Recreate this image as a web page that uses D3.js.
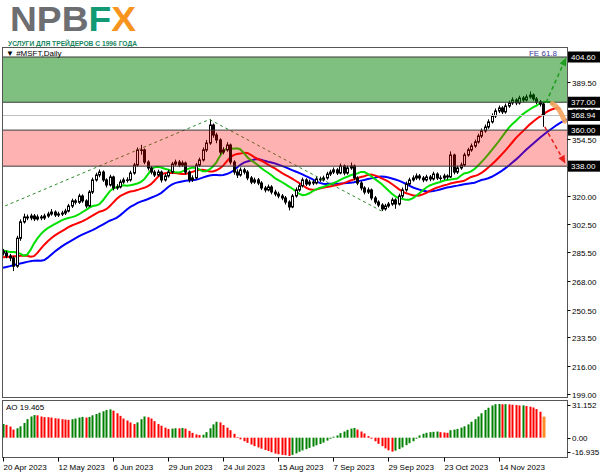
<!DOCTYPE html>
<html><head><meta charset="utf-8">
<script src="https://cdn.jsdelivr.net/npm/d3@7"></script>
<style>body{margin:0;background:#fff}svg{display:block}text{font-family:"Liberation Sans",Arial,sans-serif}</style>
</head><body><svg id="c" width="600" height="476"></svg>
<script>
const opens = [286.0,285.0,283.2,282.0,277.0,294.0,304.0,307.0,306.4,307.6,
305.8,307.0,306.4,307.6,308.8,310.0,308.2,308.8,309.4,310.6,
313.7,316.8,316.0,319.8,316.8,313.7,322.2,329.6,332.6,334.4,
329.6,326.5,331.4,324.7,325.3,328.3,329.6,329.6,333.8,338.7,
347.9,347.9,340.5,336.9,334.4,332.6,334.4,329.6,332.0,334.4,
339.3,340.5,338.7,339.9,334.4,329.6,330.8,338.7,341.8,347.9,
352.1,363.1,357.0,354.0,346.6,347.9,350.9,340.5,334.4,332.6,
335.7,334.4,330.8,328.3,329.6,327.7,324.7,323.5,325.3,322.2,
321.0,319.8,318.6,316.1,313.1,319.8,323.5,326.0,329.6,327.1,
328.3,327.7,330.2,329.6,330.8,333.2,334.4,335.7,333.8,338.1,
333.8,336.9,338.1,330.8,327.7,324.7,322.2,323.5,318.6,316.1,
314.3,311.9,313.7,314.9,317.4,314.9,319.8,323.5,327.1,329.6,
330.8,332.0,330.8,329.6,331.4,330.2,333.2,330.8,330.8,332.0,
331.4,344.8,334.4,336.9,338.7,344.8,347.9,350.3,352.8,356.4,
359.5,361.9,365.0,368.6,371.7,373.5,371.1,374.7,376.6,378.4,
376.6,379.6,378.4,380.2,381.4,379.0,377.2,375.9];
const highs = [287.5,286.5,284.5,283.0,295.5,305.5,309.0,308.5,309.0,308.8,
308.5,308.2,309.0,310.2,311.8,311.0,310.2,310.8,312.0,315.0,
318.2,318.0,321.2,320.8,317.8,323.4,331.0,334.0,336.0,335.4,
330.6,332.8,332.2,327.0,329.8,331.0,331.2,335.2,340.0,349.4,
351.0,348.8,341.6,338.0,335.6,335.8,335.4,333.4,335.8,340.6,
342.0,341.8,341.4,340.8,335.4,332.4,340.0,343.2,349.4,354.0,
366.5,364.0,358.4,355.0,349.6,352.6,351.8,341.6,336.0,337.2,
337.0,335.6,332.0,331.0,330.8,328.8,326.0,326.8,326.4,323.6,
322.4,321.0,319.8,317.2,321.0,325.0,327.4,331.0,330.6,329.8,
329.6,331.6,331.6,332.2,334.6,335.8,337.2,336.8,339.6,339.0,
338.4,340.2,339.0,331.8,328.8,325.8,325.0,324.4,319.8,317.2,
315.4,315.0,316.2,318.8,318.4,321.2,325.0,328.6,331.0,332.4,
333.6,333.2,332.0,332.8,332.6,334.6,334.2,332.4,333.4,333.0,
347.0,345.6,338.4,340.2,346.2,349.2,351.8,354.2,357.8,361.0,
363.4,366.6,370.2,373.2,375.0,374.6,376.2,378.0,380.0,379.4,
381.0,380.8,381.8,383.6,382.4,380.2,378.4,376.8];
const lows = [283.5,281.8,280.0,274.0,276.0,292.5,303.0,305.0,305.0,304.5,
304.8,305.0,305.2,306.5,307.8,307.0,307.0,307.6,308.2,309.8,
312.5,314.6,315.0,315.6,312.4,313.0,321.0,328.6,331.2,328.4,
325.0,325.6,323.2,323.6,324.4,327.2,328.0,328.6,332.8,337.8,
345.0,339.2,335.4,333.0,331.4,331.6,328.0,328.6,331.0,333.4,
338.2,337.4,337.6,333.0,328.0,328.4,330.0,337.6,340.8,346.6,
351.0,355.4,352.0,345.0,345.2,346.8,339.0,332.8,330.8,331.6,
333.0,329.4,327.0,327.2,326.4,323.4,322.0,322.6,320.8,319.6,
318.4,317.2,314.6,311.0,312.4,318.8,322.4,325.0,325.8,326.0,
326.4,326.8,328.4,328.6,329.8,332.0,333.2,332.6,333.0,332.4,
332.8,335.8,329.4,326.4,323.2,320.8,321.0,317.2,314.8,313.0,
310.6,310.8,312.6,313.8,312.0,314.0,318.6,322.4,326.0,328.6,
329.6,329.4,328.2,328.6,328.8,329.2,329.6,329.2,329.6,329.8,
330.8,333.0,333.2,335.8,337.8,343.8,346.8,349.2,351.8,355.2,
358.4,360.8,364.0,367.4,370.4,369.8,370.0,373.6,375.4,375.2,
375.6,377.0,377.4,379.2,377.8,375.8,374.4,362.0];
const closes = [285.0,283.2,282.0,277.0,294.0,304.0,307.0,306.4,307.6,305.8,
307.0,306.4,307.6,308.8,310.0,308.2,308.8,309.4,310.6,313.7,
316.8,316.0,319.8,316.8,313.7,322.2,329.6,332.6,334.4,329.6,
326.5,331.4,324.7,325.3,328.3,329.6,329.6,333.8,338.7,347.9,
347.9,340.5,336.9,334.4,332.6,334.4,329.6,332.0,334.4,339.3,
340.5,338.7,339.9,334.4,329.6,330.8,338.7,341.8,347.9,352.1,
363.1,357.0,354.0,346.6,347.9,350.9,340.5,334.4,332.6,335.7,
334.4,330.8,328.3,329.6,327.7,324.7,323.5,325.3,322.2,321.0,
319.8,318.6,316.1,313.1,319.8,323.5,326.0,329.6,327.1,328.3,
327.7,330.2,329.6,330.8,333.2,334.4,335.7,333.8,338.1,333.8,
336.9,338.1,330.8,327.7,324.7,322.2,323.5,318.6,316.1,314.3,
311.9,313.7,314.9,317.4,314.9,319.8,323.5,327.1,329.6,330.8,
332.0,330.8,329.6,331.4,330.2,333.2,330.8,330.8,332.0,331.4,
344.8,334.4,336.9,338.7,344.8,347.9,350.3,352.8,356.4,359.5,
361.9,365.0,368.6,371.7,373.5,371.1,374.7,376.6,378.4,376.6,
379.6,378.4,380.2,381.4,379.0,377.2,375.9,368.94];
const aoValues = [12.7,11.8,10.3,7.5,8.7,10.5,13.6,17.2,19.6,20.9,
20.7,19.6,19.0,18.9,18.6,18.0,17.7,17.1,16.8,16.5,
17.1,17.7,18.6,19.2,18.6,19.2,20.7,21.9,23.1,24.4,
25.6,26.2,25.0,22.6,20.2,17.7,15.9,14.1,12.6,14.1,
17.1,19.6,18.9,17.7,15.3,12.6,11.1,9.3,8.1,8.4,
8.7,8.6,9.0,8.4,6.3,4.5,3.0,2.4,2.7,5.1,
8.7,12.3,14.7,14.1,11.7,9.3,6.9,3.6,0.6,-1.5,
-3.3,-4.8,-6.3,-7.8,-9.0,-10.2,-11.4,-12.3,-13.5,-14.7,
-15.3,-15.9,-16.2,-16.9,-15.9,-14.5,-13.0,-11.8,-10.6,-9.4,
-8.2,-7.0,-5.8,-4.5,-2.7,-0.9,0.9,2.1,4.2,5.7,
7.2,8.4,9.0,7.5,5.7,3.9,1.5,-0.9,-3.3,-5.7,
-7.8,-9.9,-11.7,-12.9,-12.0,-10.5,-9.0,-6.9,-5.1,-3.3,
-0.9,2.1,3.6,4.5,5.1,5.4,5.7,5.1,4.8,4.5,
6.9,7.5,8.1,9.3,10.5,12.3,14.7,17.1,19.6,22.6,
25.6,27.7,29.8,31.0,31.15,30.9,31.0,30.8,30.5,30.2,
29.8,29.9,29.3,28.7,27.9,26.5,24.0,19.465];
const dateLabels = ["20 Apr 2023","12 May 2023","6 Jun 2023","29 Jun 2023","24 Jul 2023","15 Aug 2023","7 Sep 2023","29 Sep 2023","23 Oct 2023","14 Nov 2023"];
const dateLabelBars = [0,16,32,48,64,80,96,112,128,144];
const priceTicks = [199,216,233.5,250.5,268,285.5,302.5,320,337.5,354.5,372,389.5];
const levelLabels = [404.60,377.00,368.94,360.00,338.00];
const greenZone = [377,404.6];
const redZone = [338,360];
const currentPrice = 368.94;
const lipsHead = [286.6,286.1,285.6];
const teethHead = [282.4,282.6,282.8,283.0,283.1];
const jawHead = [276.0,276.5,277.0,277.6,278.1,278.6,279.1,279.6];
const feLine = [[-1,312.3],[60,366.5],[110,310.6]];
const upArrow = [[157.8,376.8],[163.6,404.2]];
const downArrow = [[157.4,361.9],[163.4,339.6]];
const orangeArc = [[159.6,376.2],[160.8,374.6],[162,371.2],[163.2,365.5]];
const aoAxisLabels = [31.152,0,-16.935];
const logoParts = [["NPB","#6d6e71"],["F","#129a74"],["X","#f7941d"]];

const svg = d3.select("#c");
const plotL=2.5, plotR=567.5, mainT=47.5, mainB=397.5, aoT=400.5, aoB=457.5;
const x = d3.scaleLinear().domain([0,144]).range([3,498.6]);
const y = d3.scaleLinear().domain([199,404.6]).range([394,57]);
const yA = d3.scaleLinear().domain([-16.935,31.152]).range([456,404]);
const N = closes.length;
const f2 = d3.format(".2f");

// logo (single text with coloured parts)
const lt = svg.append("text").attr("x",10).attr("y",31).attr("font-size",35.5).attr("font-weight","bold")
  .attr("textLength",126).attr("lengthAdjust","spacingAndGlyphs");
logoParts.forEach(p=>lt.append("tspan").attr("fill",p[1]).text(p[0]));
svg.append("text").attr("x",8).attr("y",46).attr("font-size",8).attr("font-weight","bold")
  .attr("fill","#17865f").attr("textLength",129).attr("lengthAdjust","spacingAndGlyphs").text("УСЛУГИ ДЛЯ ТРЕЙДЕРОВ С 1996 ГОДА");

const defs = svg.append("defs");
defs.append("clipPath").attr("id","cm").append("rect").attr("x",plotL).attr("y",mainT).attr("width",plotR-plotL).attr("height",mainB-mainT);
defs.append("clipPath").attr("id","ca").append("rect").attr("x",plotL).attr("y",aoT).attr("width",plotR-plotL).attr("height",aoB-aoT);

const gm = svg.append("g").attr("clip-path","url(#cm)");
const bars = d3.range(N).map(i=>({i,o:opens[i],h:highs[i],l:lows[i],c:closes[i]}));
const cx = i => Math.round(x(i))+0.5;

// alligator (SMMA of median price, shifted)
const med = bars.map(d=>(d.h+d.l)/2);
function smma(head,n){
  const out = head.map((v,j)=>[j,v]);
  let prev = head[head.length-1];
  med.forEach((m,t)=>{ prev=(prev*(n-1)+m)/n; out.push([t+head.length,prev]); });
  return out;
}
const line = d3.line().x(d=>x(d[0])).y(d=>y(d[1]));
gm.append("path").attr("d",line(smma(jawHead,13))).attr("fill","none").attr("stroke","#0000ff").attr("stroke-width",2);
gm.append("path").attr("d",line(smma(teethHead,8))).attr("fill","none").attr("stroke","#ff0000").attr("stroke-width",2);
gm.append("path").attr("d",line(smma(lipsHead,5))).attr("fill","none").attr("stroke","#00e000").attr("stroke-width",2);

// candles
gm.selectAll("line.w").data(bars).join("line").attr("class","w")
  .attr("x1",d=>cx(d.i)).attr("x2",d=>cx(d.i)).attr("y1",d=>y(d.h)).attr("y2",d=>y(d.l))
  .attr("stroke","#000").attr("stroke-width",1);
gm.selectAll("rect.b").data(bars).join("rect").attr("class","b")
  .attr("x",d=>cx(d.i)-1).attr("width",2)
  .attr("y",d=>y(Math.max(d.o,d.c)))
  .attr("height",d=>Math.max(0.5,Math.abs(y(d.o)-y(d.c))))
  .attr("fill",d=>d.c>=d.o?"#fff":"#000").attr("stroke","#000").attr("stroke-width",1);

// FE dotted line
gm.append("path").attr("d",line(feLine)).attr("fill","none").attr("stroke","#2e8b2e").attr("stroke-width",1).attr("stroke-dasharray","3,3");

// zones
gm.append("rect").attr("x",plotL).attr("width",plotR-plotL).attr("y",y(greenZone[1])).attr("height",y(greenZone[0])-y(greenZone[1]))
  .attr("fill","rgb(0,128,0)").attr("fill-opacity",0.5).attr("stroke","#3a3a3a").attr("stroke-width",1);
gm.append("rect").attr("x",plotL).attr("width",plotR-plotL).attr("y",y(redZone[1])).attr("height",y(redZone[0])-y(redZone[1]))
  .attr("fill","rgb(255,0,0)").attr("fill-opacity",0.3).attr("stroke","#3a3a3a").attr("stroke-width",1);
gm.append("line").attr("x1",plotL).attr("x2",plotR).attr("y1",Math.round(y(currentPrice))+0.5).attr("y2",Math.round(y(currentPrice))+0.5)
  .attr("stroke","#c0c0c0").attr("stroke-width",1);

// orange highlight and arrows
gm.append("path").attr("d",d3.line().x(d=>x(d[0])).y(d=>y(d[1])).curve(d3.curveBasis)(orangeArc))
  .attr("fill","none").attr("stroke","#f4a460").attr("stroke-width",5).attr("stroke-linecap","round").attr("opacity",0.9);
function arrow(pts,col){
  const [a,b]=pts; const x1=x(a[0]),y1=y(a[1]),x2=x(b[0]),y2=y(b[1]);
  const ang=Math.atan2(y2-y1,x2-x1), L=8, w=3.5;
  const bx=x2-L*Math.cos(ang), by=y2-L*Math.sin(ang);
  gm.append("line").attr("x1",x1).attr("y1",y1).attr("x2",bx).attr("y2",by).attr("stroke",col).attr("stroke-width",1.5).attr("stroke-dasharray","4,3");
  gm.append("path").attr("d",`M${x2},${y2}L${bx-w*Math.sin(ang)},${by+w*Math.cos(ang)}L${bx+w*Math.sin(ang)},${by-w*Math.cos(ang)}Z`).attr("fill",col);
}
arrow(upArrow,"#1e9e1e");
arrow(downArrow,"#e8201a");

// header texts
svg.append("text").attr("x",6).attr("y",56).attr("font-size",8).attr("fill","#000").text("▼ #MSFT,Daily");
svg.append("text").attr("x",557).attr("y",56).attr("text-anchor","end").attr("font-size",8).attr("fill","#3d3d9e").text("FE 61.8");

// AO
const ga = svg.append("g").attr("clip-path","url(#ca)");
ga.selectAll("rect").data(aoValues).join("rect")
  .attr("x",(d,i)=>cx(i)-1).attr("width",(d,i)=>i===N-1?3:2)
  .attr("y",d=>Math.min(yA(d),yA(0))).attr("height",d=>Math.abs(yA(d)-yA(0)))
  .attr("fill",(d,i)=> i===N-1 ? "#ff8c2a" : (i===0 || d>aoValues[i-1] ? "#008000" : "#ff0000"));
svg.append("text").attr("x",6).attr("y",410).attr("font-size",8).attr("fill","#000").text("AO "+aoValues[N-1].toFixed(3));

// frames
svg.append("rect").attr("x",plotL).attr("y",mainT).attr("width",plotR-plotL).attr("height",mainB-mainT).attr("fill","none").attr("stroke","#555");
svg.append("rect").attr("x",plotL).attr("y",aoT).attr("width",plotR-plotL).attr("height",aoB-aoT).attr("fill","none").attr("stroke","#555");

// right price axis
const ra = svg.append("g");
priceTicks.forEach(v=>{
  const yy=Math.round(y(v))+0.5;
  ra.append("line").attr("x1",plotR).attr("x2",plotR+3).attr("y1",yy).attr("y2",yy).attr("stroke","#000");
  ra.append("text").attr("x",572).attr("y",yy+3).attr("font-size",8).attr("fill","#000").text(f2(v));
});
levelLabels.forEach(v=>{
  const yy=y(v);
  ra.append("rect").attr("x",568).attr("y",yy-5.5).attr("width",32).attr("height",11).attr("fill","#000");
  ra.append("text").attr("x",571).attr("y",yy+3).attr("font-size",8).attr("fill","#fff").text(f2(v));
});
aoAxisLabels.forEach((v,k)=>{
  const yy=[405,438,452][k];
  ra.append("line").attr("x1",plotR).attr("x2",plotR+3).attr("y1",yy+0.5).attr("y2",yy+0.5).attr("stroke","#000");
  ra.append("text").attr("x",572).attr("y",yy+3).attr("font-size",8).attr("fill","#000").text(v===0?"0.00":String(v));
});

// bottom date axis
dateLabelBars.forEach((b,k)=>{
  const xx=cx(b);
  svg.append("line").attr("x1",xx).attr("x2",xx).attr("y1",aoB).attr("y2",aoB+4).attr("stroke","#000");
  svg.append("text").attr("x",xx).attr("y",470).attr("font-size",8).attr("fill","#000").text(dateLabels[k]);
});
</script></body></html>
